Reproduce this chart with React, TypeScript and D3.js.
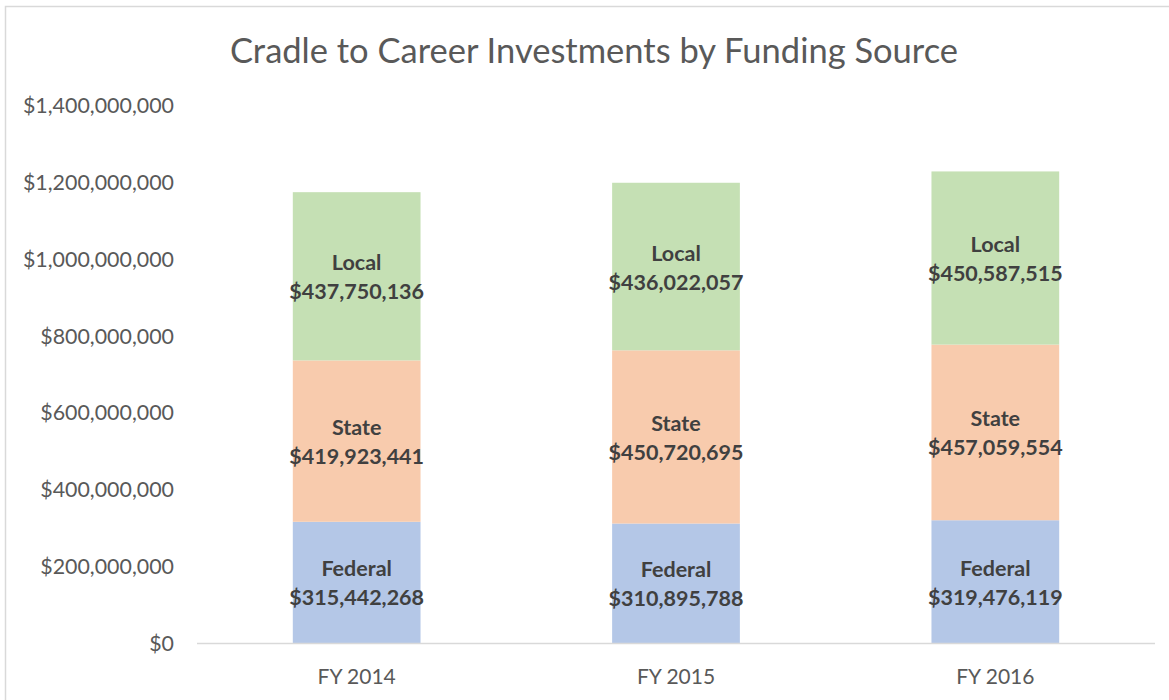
import React, { useRef, useEffect } from "react";
import * as d3 from "d3";

const years = ["FY 2014", "FY 2015", "FY 2016"];
const sources = ["Federal", "State", "Local"];
const federal = [315442268, 310895788, 319476119];
const state = [419923441, 450720695, 457059554];
const local = [437750136, 436022057, 450587515];
const yTicks = [0, 200000000, 400000000, 600000000, 800000000, 1000000000, 1200000000, 1400000000];

const COLORS: Record<string, string> = {
  Federal: "#B4C7E7",
  State: "#F8CBAD",
  Local: "#C5E0B4",
};

const W = 1169;
const H = 700;
const FONT = "Lato, 'Open Sans', sans-serif";

const App = () => {
  const ref = useRef<SVGSVGElement>(null);

  useEffect(() => {
    const svg = d3.select(ref.current);
    svg.selectAll("*").remove();

    const rows = years.map((year, i) => ({
      year,
      Federal: federal[i],
      State: state[i],
      Local: local[i],
    }));
    const stacked = d3.stack<any>().keys(sources)(rows);

    const x = d3
      .scaleBand()
      .domain(years)
      .range([197, 1155])
      .paddingInner(0.6)
      .paddingOuter(0.3);
    const y = d3.scaleLinear().domain([0, 1400000000]).range([643, 105]);
    const money = d3.format("$,.0f");

    // chart border
    svg
      .append("rect")
      .attr("x", 5.5)
      .attr("y", 6.5)
      .attr("width", W + 10)
      .attr("height", H + 10)
      .attr("fill", "#fff")
      .attr("stroke", "#d9d9d9")
      .attr("stroke-width", 1.5);

    svg
      .append("text")
      .attr("x", 594)
      .attr("y", 49)
      .attr("text-anchor", "middle")
      .attr("dominant-baseline", "central")
      .attr("font-size", 34.5)
      .attr("fill", "#595959")
      .text("Cradle to Career Investments by Funding Source");

    // y axis labels
    svg
      .append("g")
      .selectAll("text")
      .data(yTicks)
      .join("text")
      .attr("x", 174)
      .attr("y", (d) => y(d))
      .attr("text-anchor", "end")
      .attr("dominant-baseline", "central")
      .attr("font-size", 21.4)
      .attr("fill", "#595959")
      .text((d) => money(d));

    // bars
    const layers = svg
      .append("g")
      .selectAll("g")
      .data(stacked)
      .join("g")
      .attr("fill", (d) => COLORS[d.key]);

    layers
      .selectAll("rect")
      .data((d) => d)
      .join("rect")
      .attr("x", (d: any) => x(d.data.year)!)
      .attr("y", (d) => y(d[1]))
      .attr("width", x.bandwidth())
      .attr("height", (d) => y(d[0]) - y(d[1]));

    // data labels
    stacked.forEach((layer) => {
      const g = svg.append("g").attr("fill", "#404040").attr("font-weight", "bold").attr("font-size", 21.5);
      layer.forEach((d: any) => {
        const cx = x(d.data.year)! + x.bandwidth() / 2;
        const cy = y((d[0] + d[1]) / 2);
        g.append("text")
          .attr("x", cx)
          .attr("y", cy - 14)
          .attr("text-anchor", "middle")
          .attr("dominant-baseline", "central")
          .text(layer.key);
        g.append("text")
          .attr("x", cx)
          .attr("y", cy + 15)
          .attr("text-anchor", "middle")
          .attr("dominant-baseline", "central")
          .text(money(d[1] - d[0]));
      });
    });

    // x axis
    svg
      .append("line")
      .attr("x1", 197)
      .attr("x2", 1155)
      .attr("y1", 643.5)
      .attr("y2", 643.5)
      .attr("stroke", "#d9d9d9")
      .attr("stroke-width", 1.5);

    svg
      .append("g")
      .selectAll("text")
      .data(years)
      .join("text")
      .attr("x", (d) => x(d)! + x.bandwidth() / 2)
      .attr("y", 675)
      .attr("text-anchor", "middle")
      .attr("dominant-baseline", "central")
      .attr("font-size", 21)
      .attr("fill", "#595959")
      .text((d) => d);
  }, []);

  return (
    <svg
      ref={ref}
      width={W}
      height={H}
      style={{ position: "absolute", left: 0, top: 0, fontFamily: FONT }}
    />
  );
};

export default App;
